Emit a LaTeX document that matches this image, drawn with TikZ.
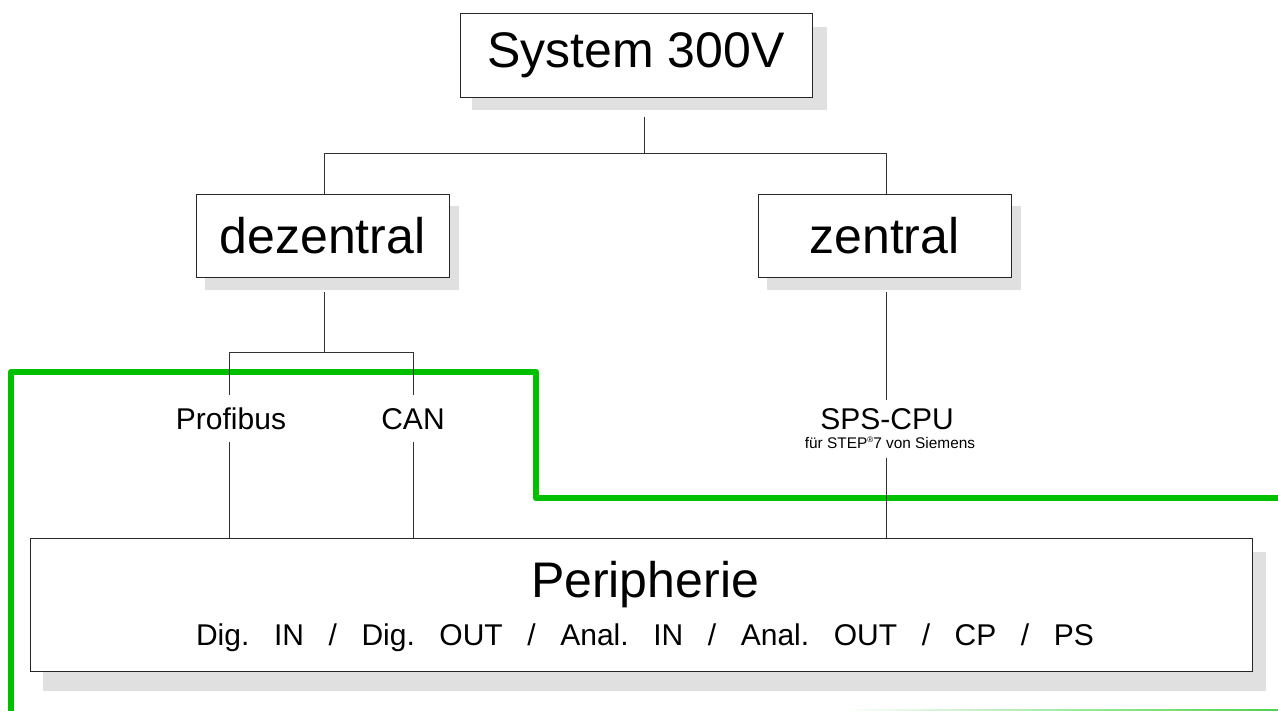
\documentclass[tikz,border=0pt]{standalone}
\usepackage{fontspec}
\setmainfont{Liberation Sans}
\usetikzlibrary{calc}
\definecolor{busgreen}{RGB}{0,192,0}
\definecolor{shadowgray}{RGB}{224,224,224}
\definecolor{wire}{RGB}{50,50,50}
\pgfdeclarelayer{shadow}
\pgfsetlayers{shadow,main}
\tikzset{
  box/.style={draw=black!85, line width=0.9pt, fill=white, inner sep=0pt, anchor=center},
  bigtext/.style={font=\fontsize{50}{56}\selectfont},
  midtext/.style={font=\fontsize{30}{34}\selectfont, inner sep=0pt},
  smalltext/.style={font=\fontsize{15.4}{17}\selectfont, inner sep=0pt},
  conn/.style={draw=wire, line width=0.9pt},
  greenbus/.style={draw=busgreen, line width=6.5pt, line join=round},
}
\newcommand{\boxshadow}[3]{% node, offset top-left, offset bottom-right
  \fill[shadowgray] ($(#1.north west)+#2$) rectangle ($(#1.south east)+#3$);}
\begin{document}
\begin{tikzpicture}[x=1pt, y=-1pt]
\useasboundingbox (0,0) rectangle (1278,711);

% green bus line
\coordinate (g0) at (11,715);
\coordinate (g1) at (11,372);
\coordinate (g2) at (536,372);
\coordinate (g3) at (536,498);
\coordinate (g4) at (1282,498);
\draw[greenbus] (g0) -- (g1) -- (g2) -- (g3) -- (g4);

% faint fading line at the bottom edge
\shade[left color=white, right color=busgreen!70] (840,709) rectangle (1278,710.5);

% boxes
\node[box, bigtext, minimum width=352pt, minimum height=84pt] (sys) at (636,55) {System 300V};
\node[box, bigtext, minimum width=253pt, minimum height=83pt] (dez) at (322.5,235.5) {dezentral};
\node[box, bigtext, minimum width=253pt, minimum height=83pt] (zen) at (884.5,235.5) {zentral};
\node[box, minimum width=1222pt, minimum height=133pt] (peri) at (641,604.5) {};

% drop shadows behind the boxes
\begin{pgfonlayer}{shadow}
  \fill[white] (0,0) rectangle (1278,711);
  \boxshadow{sys}{(12,14)}{(15,13)}
  \boxshadow{dez}{(9,12)}{(10,13)}
  \boxshadow{zen}{(9,12)}{(10,13)}
  \boxshadow{peri}{(13,14)}{(14,20)}
\end{pgfonlayer}

% texts inside the Peripherie box
\node[bigtext, inner sep=0pt, anchor=base] (peritxt) at (645,597) {Peripherie};
\node[midtext, anchor=base] (perilist) at (645,645)
  {Dig.\hspace{24.6pt}IN\hspace{24.6pt}/\hspace{24.6pt}Dig.\hspace{24.6pt}OUT\hspace{24.6pt}/\hspace{24.6pt}Anal.\hspace{24.6pt}IN\hspace{24.6pt}/\hspace{24.6pt}Anal.\hspace{24.6pt}OUT\hspace{24.6pt}/\hspace{24.6pt}CP\hspace{24.6pt}/\hspace{24.6pt}PS};

% bus labels
\node[midtext, anchor=base] (profi) at (231,429) {Profibus};
\node[midtext, anchor=base] (can) at (413,429) {CAN};
\node[midtext, anchor=base] (sps) at (887,429) {SPS-CPU};
\node[smalltext, anchor=base] (step) at (890,449)
  {für STEP\raisebox{0.42em}{\fontsize{8}{8}\selectfont ®}7 von Siemens};

% tree connectors
\coordinate (sysdn) at (644,117);
\coordinate (top) at (644,153);
\coordinate (topl) at (324,153);
\coordinate (topr) at (886,153);
\draw[conn] (sysdn) -- (top);
\draw[conn] (topl |- dez.north) -- (topl) -- (topr) -- (topr |- zen.north);

\coordinate (dezdn) at (324,292);
\coordinate (mid) at (324,352);
\coordinate (midl) at (229,352);
\coordinate (midr) at (413,352);
\coordinate (profiup) at (229,395);
\coordinate (canup) at (413,395);
\coordinate (profidn) at (229,442);
\coordinate (candn) at (413,442);
\draw[conn] (dezdn) -- (mid);
\draw[conn] (profiup) -- (midl) -- (midr) -- (canup);
\draw[conn] (profidn) -- (profidn |- peri.north);
\draw[conn] (candn) -- (candn |- peri.north);

\coordinate (zendn) at (886,292);
\coordinate (spsup) at (886,400);
\coordinate (spsdn) at (886,458);
\draw[conn] (zendn) -- (spsup);
\draw[conn] (spsdn) -- (spsdn |- peri.north);
\end{tikzpicture}
\end{document}
